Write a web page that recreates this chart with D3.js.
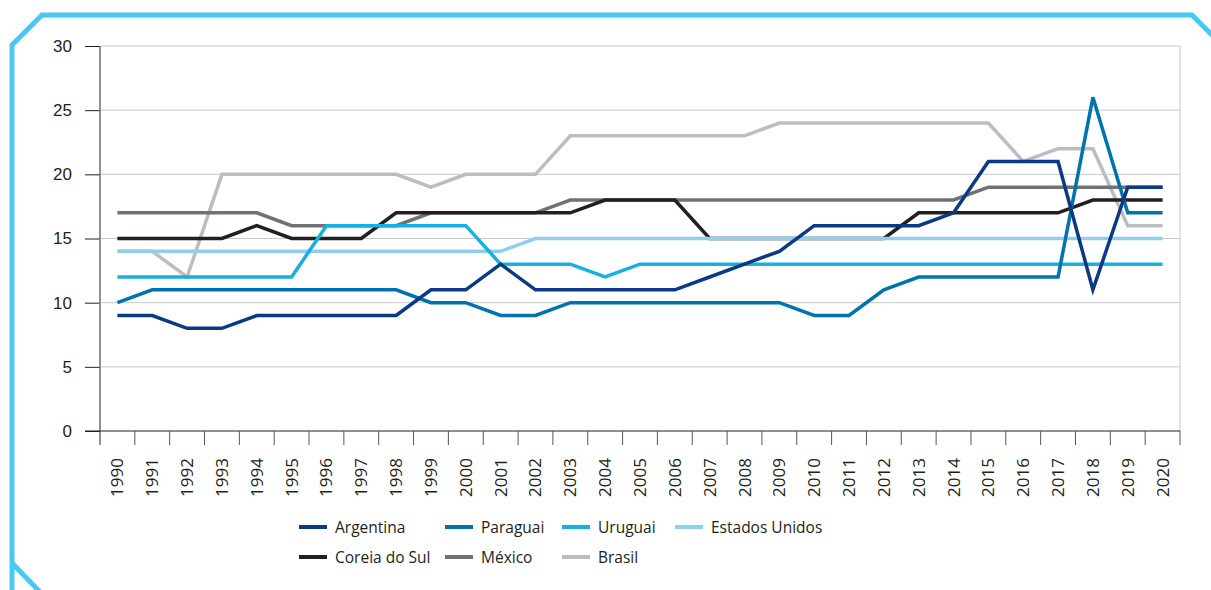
<!DOCTYPE html>
<html>
<head>
<meta charset="utf-8">
<script src="https://cdn.jsdelivr.net/npm/d3@7"></script>
<style>
  body { margin: 0; background: #fff; }
  svg { display: block; font-family: "Open Sans", "Noto Sans", sans-serif; }
</style>
</head>
<body>
<svg id="chart" width="1211" height="590"></svg>
<script>
var years = d3.range(1990, 2021).map(String);
var seriesNames = ['Argentina', 'Paraguai', 'Uruguai', 'Estados Unidos', 'Coreia do Sul', 'México', 'Brasil'];
var argentina = [9, 9, 8, 8, 9, 9, 9, 9, 9, 11, 11, 13, 11, 11, 11, 11, 11, 12, 13, 14, 16, 16, 16, 16, 17, 21, 21, 21, 11, 19, 19];
var paraguai = [10, 11, 11, 11, 11, 11, 11, 11, 11, 10, 10, 9, 9, 10, 10, 10, 10, 10, 10, 10, 9, 9, 11, 12, 12, 12, 12, 12, 26, 17, 17];
var uruguai = [12, 12, 12, 12, 12, 12, 16, 16, 16, 16, 16, 13, 13, 13, 12, 13, 13, 13, 13, 13, 13, 13, 13, 13, 13, 13, 13, 13, 13, 13, 13];
var estadosUnidos = [14, 14, 14, 14, 14, 14, 14, 14, 14, 14, 14, 14, 15, 15, 15, 15, 15, 15, 15, 15, 15, 15, 15, 15, 15, 15, 15, 15, 15, 15, 15];
var coreiaDoSul = [15, 15, 15, 15, 16, 15, 15, 15, 17, 17, 17, 17, 17, 17, 18, 18, 18, 15, 15, 15, 15, 15, 15, 17, 17, 17, 17, 17, 18, 18, 18];
var mexico = [17, 17, 17, 17, 17, 16, 16, 16, 16, 17, 17, 17, 17, 18, 18, 18, 18, 18, 18, 18, 18, 18, 18, 18, 18, 19, 19, 19, 19, 19, 19];
var brasil = [14, 14, 12, 20, 20, 20, 20, 20, 20, 19, 20, 20, 20, 23, 23, 23, 23, 23, 23, 24, 24, 24, 24, 24, 24, 24, 21, 22, 22, 16, 16];
var yTicks = [0, 5, 10, 15, 20, 25, 30];

var colors = ['#0b3a84', '#0073ae', '#17b0e0', '#8ccfee', '#231f20', '#707174', '#bcbdc0'];
var values = [argentina, paraguai, uruguai, estadosUnidos, coreiaDoSul, mexico, brasil];

var series = seriesNames.map(function(name, i) {
  return { name: name, color: colors[i], values: values[i] };
});

var svg = d3.select('#chart');
var margin = { left: 100, right: 31, top: 46, bottom: 159 };
var width = 1211 - margin.left - margin.right;
var height = 590 - margin.top - margin.bottom;

// cyan frame with cut corners
svg.append('path')
  .attr('d', 'M12,600 L12,45 L42,15 L1192,15 L1215,38 M12,563 L40,592')
  .attr('fill', 'none')
  .attr('stroke', '#48c9f2')
  .attr('stroke-width', 5);

var g = svg.append('g').attr('transform', 'translate(' + margin.left + ',' + margin.top + ')');

var x = d3.scaleBand().domain(years).range([0, width]);
var y = d3.scaleLinear().domain([0, 30]).range([height, 0]);

// gridlines
g.append('g').selectAll('line')
  .data(yTicks.filter(function(d) { return d > 0; }))
  .join('line')
  .attr('x1', 0).attr('x2', width)
  .attr('y1', y).attr('y2', y)
  .attr('stroke', '#c8c8c8');

g.append('line')
  .attr('x1', width).attr('x2', width)
  .attr('y1', 0).attr('y2', height)
  .attr('stroke', '#c8c8c8');

// y axis
var yAxis = g.append('g')
  .call(d3.axisLeft(y).tickValues(yTicks).tickSize(15).tickPadding(13));
yAxis.select('.domain').remove();
yAxis.selectAll('.tick line').attr('stroke', '#231f20');
yAxis.selectAll('.tick text').attr('font-size', 17).attr('fill', '#231f20');
g.append('line')
  .attr('x1', 0).attr('x2', 0)
  .attr('y1', 0).attr('y2', height + 14)
  .attr('stroke', '#6d6e71').attr('stroke-width', 1.5);

// x axis: ticks at band boundaries
var xAxis = g.append('g').attr('transform', 'translate(0,' + height + ')');
xAxis.append('line')
  .attr('x1', -15).attr('x2', width)
  .attr('stroke', '#231f20').attr('stroke-width', 1.2);
xAxis.selectAll('line.tick')
  .data(years.slice(1).concat(['end']))
  .join('line')
  .attr('class', 'tick')
  .attr('x1', function(d) { return d === 'end' ? width : x(d); })
  .attr('x2', function(d) { return d === 'end' ? width : x(d); })
  .attr('y1', 0).attr('y2', 14)
  .attr('stroke', '#555').attr('stroke-width', 1);
xAxis.selectAll('text')
  .data(years)
  .join('text')
  .attr('transform', function(d) {
    return 'translate(' + (x(d) + x.bandwidth() / 2 + 6) + ',27) rotate(-90)';
  })
  .attr('text-anchor', 'end')
  .attr('font-size', 17)
  .attr('fill', '#231f20')
  .text(function(d) { return d; });

// lines, first series drawn on top
var line = d3.line()
  .x(function(d, i) { return x(years[i]) + x.bandwidth() / 2; })
  .y(function(d) { return y(d); });

g.append('g').selectAll('path')
  .data(series.slice().reverse())
  .join('path')
  .attr('d', function(d) { return line(d.values); })
  .attr('fill', 'none')
  .attr('stroke', function(d) { return d.color; })
  .attr('stroke-width', 3.5)
  .attr('stroke-linejoin', 'miter');

// legend
var legendCols = [299, 445, 562, 675];
var legend = svg.append('g').selectAll('g')
  .data(series)
  .join('g')
  .attr('transform', function(d, i) {
    return 'translate(' + legendCols[i % 4] + ',' + (527 + Math.floor(i / 4) * 30) + ')';
  });
legend.append('line')
  .attr('x1', 0).attr('x2', 28)
  .attr('stroke', function(d) { return d.color; })
  .attr('stroke-width', 4);
legend.append('text')
  .attr('x', 36).attr('dy', '0.36em')
  .attr('font-size', 15.5)
  .attr('fill', '#231f20')
  .text(function(d) { return d.name; });
</script>
</body>
</html>
